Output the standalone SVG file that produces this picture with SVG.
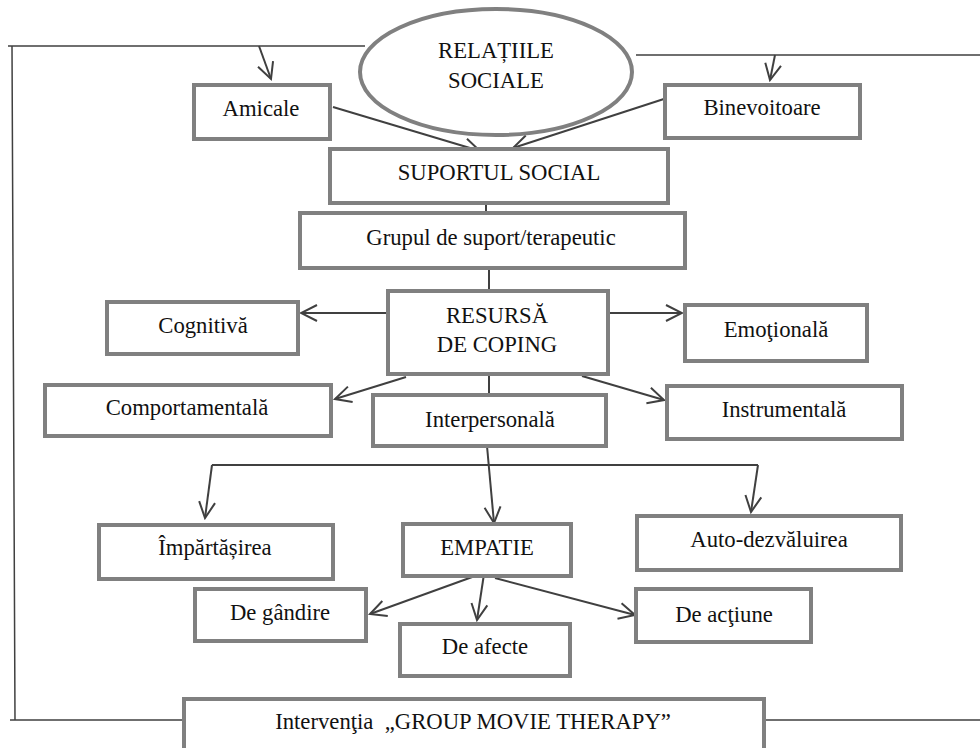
<svg xmlns="http://www.w3.org/2000/svg" width="980" height="748" viewBox="0 0 980 748">
<style>
.b{fill:#fff;stroke:#808080;stroke-width:4}
.t{font-family:'Liberation Serif','Times New Roman',Tinos,'DejaVu Serif',serif;font-size:22.7px;fill:#111;text-anchor:middle}
.c{stroke:#404040;stroke-width:2;fill:none}
.f{stroke:#404040;stroke-width:1.5;fill:none}
</style>
<defs>
<marker id="a" viewBox="-18 -10 20 20" markerWidth="20" markerHeight="20" refX="0" refY="0" orient="auto" markerUnits="userSpaceOnUse">
<path d="M-16,-8 L0,0 L-16,8" fill="none" stroke="#404040" stroke-width="2"/>
</marker>
</defs>
<rect width="980" height="748" fill="#fff"/>
<g id="connectors">
<path class="f" d="M8,46 H365 M12,46 L15,720 M10,720 H182 M636,55 H980 M760,720 H980"/>
<line class="c" x1="259" y1="46" x2="271" y2="79" marker-end="url(#a)"/>
<line class="c" x1="775" y1="55" x2="770" y2="80" marker-end="url(#a)"/>
<line class="c" x1="333" y1="107" x2="480" y2="151" marker-end="url(#a)"/>
<line class="c" x1="670" y1="97" x2="513" y2="148" marker-end="url(#a)"/>
<line class="c" x1="486" y1="188" x2="486" y2="213"/>
<line class="c" x1="489" y1="268" x2="489" y2="291"/>
<line class="c" x1="388" y1="313" x2="301" y2="313" marker-end="url(#a)"/>
<line class="c" x1="608" y1="313" x2="682" y2="313" marker-end="url(#a)"/>
<line class="c" x1="406" y1="377" x2="335" y2="399" marker-end="url(#a)"/>
<line class="c" x1="582" y1="376" x2="664" y2="400" marker-end="url(#a)"/>
<line class="c" x1="489" y1="374" x2="489" y2="395"/>
<line class="c" x1="487" y1="446" x2="494" y2="523" marker-end="url(#a)"/>
<path class="c" d="M212,465 H758"/>
<line class="c" x1="212" y1="465" x2="205" y2="518" marker-end="url(#a)"/>
<line class="c" x1="758" y1="465" x2="751" y2="512" marker-end="url(#a)"/>
<line class="c" x1="475" y1="576" x2="370" y2="614" marker-end="url(#a)"/>
<line class="c" x1="484" y1="574" x2="477" y2="620" marker-end="url(#a)"/>
<line class="c" x1="495" y1="578" x2="635" y2="615" marker-end="url(#a)"/>
</g>
<g id="relatiile"><ellipse class="b" cx="496" cy="72" rx="136" ry="63"/><text class="t" x="496" y="58">RELAȚIILE</text><text class="t" x="496" y="88">SOCIALE</text></g>
<g id="amicale"><rect class="b" x="194" y="85" width="136" height="54"/><text class="t" x="261" y="116">Amicale</text></g>
<g id="binevoitoare"><rect class="b" x="665" y="85" width="195" height="53"/><text class="t" x="762" y="115">Binevoitoare</text></g>
<g id="suportul"><rect class="b" x="330" y="149" width="338" height="54"/><text class="t" x="499" y="180">SUPORTUL SOCIAL</text></g>
<g id="grupul"><rect class="b" x="300" y="213" width="385" height="55"/><text class="t" x="491" y="245">Grupul de suport/terapeutic</text></g>
<g id="resursa"><rect class="b" x="388" y="291" width="220" height="83"/><text class="t" x="497" y="323">RESURSĂ</text><text class="t" x="497" y="352">DE COPING</text></g>
<g id="cognitiva"><rect class="b" x="107" y="302" width="191" height="52"/><text class="t" x="203" y="333">Cognitivă</text></g>
<g id="emotionala"><rect class="b" x="685" y="305" width="182" height="56"/><text class="t" x="776" y="337">Emoţională</text></g>
<g id="comportamentala"><rect class="b" x="45" y="385" width="286" height="51"/><text class="t" x="187" y="415">Comportamentală</text></g>
<g id="interpersonala"><rect class="b" x="373" y="395" width="233" height="51"/><text class="t" x="490" y="427">Interpersonală</text></g>
<g id="instrumentala"><rect class="b" x="667" y="386" width="235" height="53"/><text class="t" x="784" y="417">Instrumentală</text></g>
<g id="impartasirea"><rect class="b" x="99" y="525" width="234" height="54"/><text class="t" x="215" y="555">Împărtășirea</text></g>
<g id="empatie"><rect class="b" x="403" y="524" width="168" height="52"/><text class="t" x="487" y="555">EMPATIE</text></g>
<g id="autodezvaluirea"><rect class="b" x="637" y="516" width="264" height="54"/><text class="t" x="769" y="547">Auto-dezvăluirea</text></g>
<g id="degandire"><rect class="b" x="195" y="589" width="171" height="52"/><text class="t" x="280" y="620">De gândire</text></g>
<g id="deafecte"><rect class="b" x="400" y="624" width="170" height="52"/><text class="t" x="485" y="654">De afecte</text></g>
<g id="deactiune"><rect class="b" x="636" y="589" width="175" height="53"/><text class="t" x="724" y="622">De acţiune</text></g>
<g id="interventia"><rect class="b" x="184" y="699" width="580" height="60"/><text class="t" x="473" y="729" xml:space="preserve">Intervenţia  „GROUP MOVIE THERAPY”</text></g>
</svg>
